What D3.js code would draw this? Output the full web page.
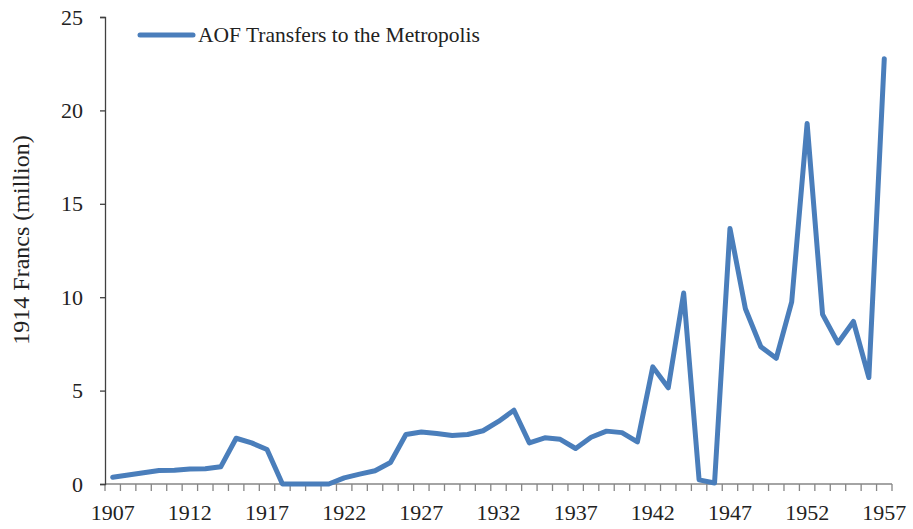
<!DOCTYPE html>
<html>
<head>
<meta charset="utf-8">
<script src="https://cdn.jsdelivr.net/npm/d3@7"></script>
<style>
  body { margin: 0; background: #fff; }
  svg { display: block; font-family: "Liberation Serif", "Times New Roman", serif; }
</style>
</head>
<body>
<div id="chart"></div>
<script>
// Données
const years = d3.range(1907, 1958);
const transfers = [
  0.36, 0.48, 0.6, 0.72, 0.73, 0.8, 0.82, 0.92, 2.45, 2.2,
  1.85, 0, 0, 0, 0, 0.33, 0.53, 0.71, 1.15, 2.65,
  2.78, 2.7, 2.6, 2.65, 2.85, 3.35, 3.95, 2.2, 2.47, 2.39,
  1.9, 2.5, 2.83, 2.75, 2.25, 6.27, 5.15, 10.22, 0.22, 0.05,
  13.68, 9.38, 7.35, 6.73, 9.75, 19.3, 9.08, 7.55, 8.7, 5.7,
  22.77
];
const yTicks = [0, 5, 10, 15, 20, 25];
const xLabels = [1907, 1912, 1917, 1922, 1927, 1932, 1937, 1942, 1947, 1952, 1957];
const seriesName = "AOF Transfers to the Metropolis";

const data = years.map((yr, i) => ({year: yr, value: transfers[i]}));

// Dimensions
const width = 913;
const height = 529;
const marginTop = 17;
const marginRight = 21;
const marginBottom = 45;
const marginLeft = 105;

const x = d3.scaleBand(years, [marginLeft, width - marginRight]);
const y = d3.scaleLinear([0, 25], [height - marginBottom, marginTop]);

const svg = d3.create("svg")
    .attr("viewBox", [0, 0, width, height])
    .attr("width", width)
    .attr("height", height);

// Axe X : graduations à chaque limite de catégorie
const xAxis = svg.append("g")
    .attr("transform", `translate(0,${y(0)})`);

xAxis.append("line")
    .attr("x1", marginLeft).attr("x2", width - marginRight)
    .attr("stroke", "#868686").attr("stroke-width", 1.5);

const bounds = years.map(yr => x(yr)).concat([x(years[years.length - 1]) + x.bandwidth()]);
xAxis.selectAll("line.tick")
    .data(bounds)
    .join("line")
      .attr("class", "tick")
      .attr("x1", d => d).attr("x2", d => d)
      .attr("y1", 0).attr("y2", 7)
      .attr("stroke", "#868686").attr("stroke-width", 1.3);

xAxis.selectAll("text")
    .data(xLabels)
    .join("text")
      .attr("x", d => x(d) + x.bandwidth() / 2)
      .attr("y", 36)
      .attr("text-anchor", "middle")
      .attr("font-size", 22)
      .attr("fill", "#222")
      .text(d => d);

// Axe Y
const yAxis = svg.append("g")
    .attr("transform", `translate(${marginLeft},0)`)
    .call(d3.axisLeft(y).tickValues(yTicks).tickSize(5).tickPadding(17))
    .call(g => g.select(".domain").attr("stroke", "#404040").attr("stroke-width", 1.3))
    .call(g => g.selectAll(".tick line").attr("stroke", "#404040").attr("stroke-width", 1.3))
    .call(g => g.selectAll(".tick text")
        .attr("font-size", 22)
        .attr("font-family", "Liberation Serif, serif")
        .attr("fill", "#222"));

svg.append("text")
    .attr("transform", "translate(29,240) rotate(-90)")
    .attr("text-anchor", "middle")
    .attr("font-size", 24)
    .attr("fill", "#222")
    .text("1914 Francs (million)");

// Ligne
const line = d3.line()
    .x(d => x(d.year) + x.bandwidth() / 2)
    .y(d => y(d.value));

svg.append("path")
    .datum(data)
    .attr("fill", "none")
    .attr("stroke", "#4a7ebb")
    .attr("stroke-width", 5)
    .attr("stroke-linejoin", "round")
    .attr("stroke-linecap", "round")
    .attr("d", line);

// Légende
const legend = svg.append("g").attr("transform", "translate(140,35)");
legend.append("line")
    .attr("x1", 0).attr("x2", 53)
    .attr("stroke", "#4a7ebb").attr("stroke-width", 5)
    .attr("stroke-linecap", "round");
legend.append("text")
    .attr("x", 58)
    .attr("y", 7)
    .attr("font-size", 21.5)
    .attr("fill", "#222")
    .text(seriesName);

document.getElementById("chart").appendChild(svg.node());
</script>
</body>
</html>
